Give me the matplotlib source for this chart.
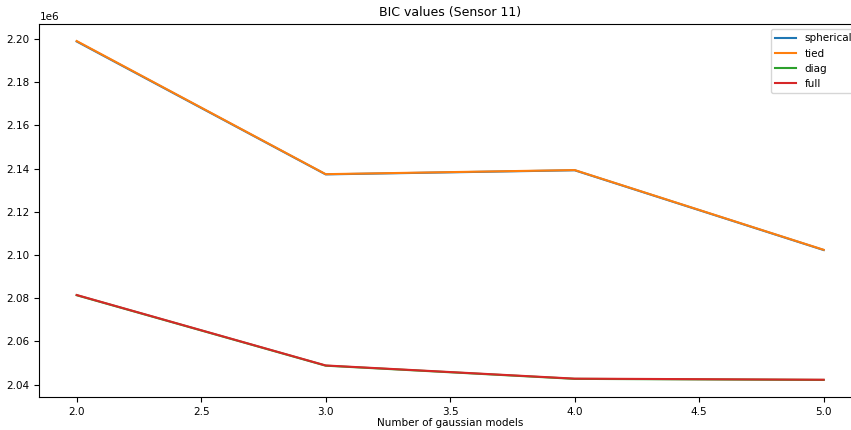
import matplotlib
matplotlib.use("Agg")
import matplotlib.pyplot as plt

n_components = [2, 3, 4, 5]
bic_spherical = [2.1988e6, 2.1373e6, 2.1392e6, 2.1023e6]
bic_tied = [2.1990e6, 2.1374e6, 2.1393e6, 2.1024e6]
bic_diag = [2.0814e6, 2.0488e6, 2.0427e6, 2.0422e6]
bic_full = [2.0815e6, 2.0489e6, 2.0428e6, 2.0423e6]

plt.rcParams["font.size"] = 7.5

fig = plt.figure(figsize=(8.51, 4.30), dpi=100)
# axes run slightly past the right edge of the figure
ax = fig.add_axes([0.0462, 0.077, 0.9656, 0.867])

ax.plot(n_components, bic_spherical, label="spherical")
ax.plot(n_components, bic_tied, label="tied")
ax.plot(n_components, bic_diag, label="diag")
ax.plot(n_components, bic_full, label="full")

ax.set_title("BIC values (Sensor 11)")
ax.set_xlabel("Number of gaussian models", labelpad=1)
ax.legend(loc="upper right", bbox_to_anchor=(1.0003, 1.0))

fig.savefig("out.png", dpi=100)
